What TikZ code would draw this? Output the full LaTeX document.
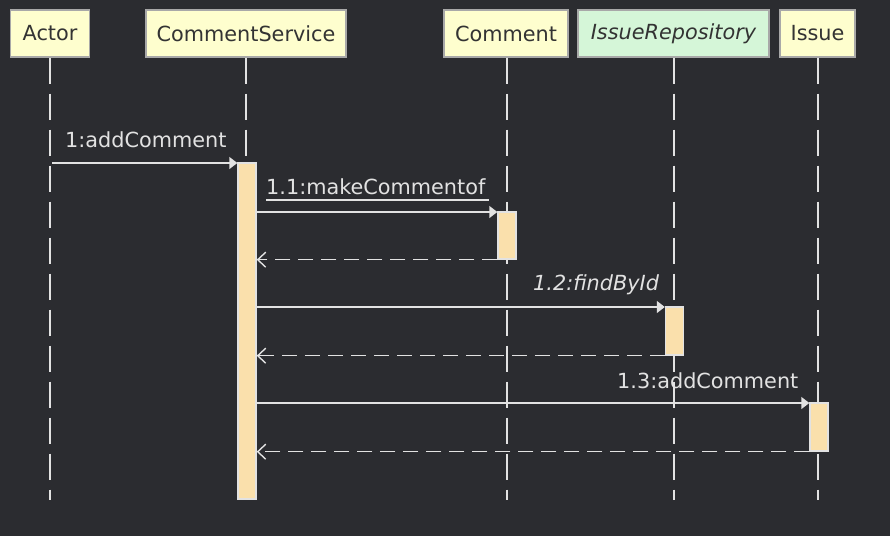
\documentclass[tikz,border=0pt]{standalone}
\usepackage{fontspec}
\setmainfont{DejaVu Sans}
\usetikzlibrary{arrows.meta}
\definecolor{bg}{HTML}{2B2C30}
\definecolor{headfill}{HTML}{FEFECE}
\definecolor{repofill}{HTML}{D5F6D8}
\definecolor{headline}{HTML}{A8A8A8}
\definecolor{headtext}{HTML}{333333}
\definecolor{wire}{HTML}{E2E2E2}
\definecolor{actfill}{HTML}{FAE0AC}
\tikzset{
  txt/.style={font=\fontsize{20.8}{24}\selectfont},
  head/.style={draw=headline, line width=1.8pt, fill=headfill, text=headtext, txt, minimum height=47pt, inner sep=0pt},
  life/.style={draw=wire, line width=1.4pt, dash pattern=on 26pt off 10pt},
  actbar/.style={draw=wire, line width=1.4pt, fill=actfill, minimum width=18pt, inner sep=0pt},
  msg/.style={draw=wire, line width=1.4pt, -{Triangle[length=8pt,width=12pt]}},
  ret/.style={draw=wire, line width=1.4pt, dash pattern=on 15pt off 8pt, -{Straight Barb[length=8pt,width=15pt,line width=1.4pt]}},
  lbl/.style={txt, text=wire, anchor=base west, inner sep=0pt}
}
\begin{document}
\begin{tikzpicture}[x=1pt,y=-1pt]
\fill[bg] (0,0) rectangle (890,536);
\useasboundingbox (0,0) rectangle (890,536);

% lifeline ends
\coordinate (actorEnd) at (50,500);
\coordinate (csEnd) at (246,500);
\coordinate (commentEnd) at (507,500);
\coordinate (repoEnd) at (674,500);
\coordinate (issueEnd) at (818,500);

% heads
\node[head, minimum width=79pt] (actor) at (50,33.5) {Actor};
\node[head, minimum width=200pt] (cs) at (246,33.5) {CommentService};
\node[head, minimum width=124pt] (comment) at (506,33.5) {Comment};
\node[head, minimum width=191pt, fill=repofill] (repo) at (673.5,33.5) {\itshape IssueRepository};
\node[head, minimum width=75pt] (issue) at (817.5,33.5) {Issue};

% lifelines
\draw[life] (50,57.5) -- (actorEnd);
\draw[life] (246,57.5) -- (csEnd);
\draw[life] (507,57.5) -- (commentEnd);
\draw[life] (674,57.5) -- (repoEnd);
\draw[life] (818,57.5) -- (issueEnd);

% activation bars
\node[actbar, minimum height=336pt] (csAct) at (247,331) {};
\node[actbar, minimum height=47pt] (commentAct) at (507,235.5) {};
\node[actbar, minimum height=48pt] (repoAct) at (674.5,331) {};
\node[actbar, minimum height=48pt] (issueAct) at (819,427) {};

% messages
\coordinate (m1s) at (52,163);
\draw[msg] (m1s) -- (csAct.west |- m1s);
\node[lbl] (l1) at (65,147) {1:addComment};

\coordinate (m2y) at (0,212);
\draw[msg] (csAct.east |- m2y) -- (commentAct.west |- m2y);
\node[lbl] (l2) at (266,194) {1.1:makeCommentof};
\draw[wire, line width=1.4pt] (l2.base west) ++(0,6) -- ++(223,0);
\draw[ret] (commentAct.south west) -- (csAct.east |- commentAct.south);

\coordinate (m3y) at (0,307);
\draw[msg] (csAct.east |- m3y) -- (repoAct.west |- m3y);
\node[lbl] (l3) at (533,290) {\itshape 1.2:findById};
\draw[ret] (repoAct.south west) -- (csAct.east |- repoAct.south);

\coordinate (m4y) at (0,403);
\draw[msg] (csAct.east |- m4y) -- (issueAct.west |- m4y);
\node[lbl] (l4) at (617,388) {1.3:addComment};
\draw[ret] (issueAct.south west) -- (csAct.east |- issueAct.south);
\end{tikzpicture}
\end{document}
